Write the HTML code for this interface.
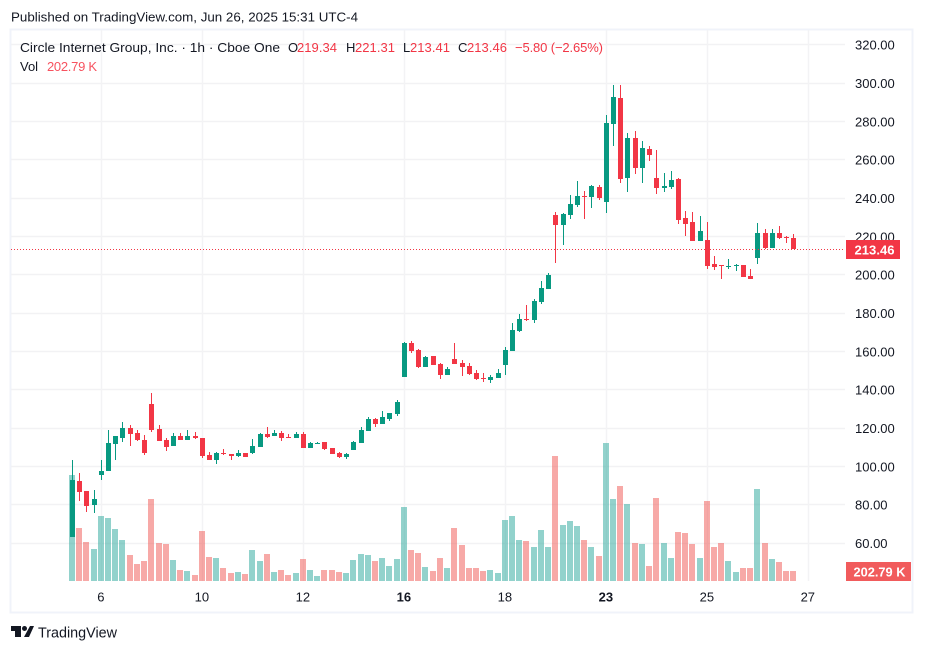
<!DOCTYPE html>
<html lang="en">
<head>
<meta charset="utf-8">
<title>Circle Internet Group, Inc. chart</title>
<style>
html,body{margin:0;padding:0;background:#fff;}
body{width:925px;height:652px;overflow:hidden;}
svg{display:block;font-family:"Liberation Sans",sans-serif;}
text{fill:#131722;font-size:13px;}
</style>
</head>
<body>
<svg id="chart" width="925" height="652" viewBox="0 0 925 652" xmlns="http://www.w3.org/2000/svg">
  <text x="11" y="21.5" textLength="347" lengthAdjust="spacingAndGlyphs">Published on TradingView.com, Jun 26, 2025 15:31 UTC-4</text>
  <rect x="10.5" y="29.5" width="902" height="583" fill="none" stroke="#f0f3fa" stroke-width="2"/>
  <g id="grid"></g>
  <g id="volumes"></g>
  <g id="candles"></g>
  <g id="price-axis"></g>
  <g id="time-axis"></g>
  <line id="last-line" x1="11" x2="845" stroke="#f23645" stroke-width="1" stroke-dasharray="1 2" shape-rendering="crispEdges"/>
  <g>
    <rect x="846" y="240" width="54" height="19" fill="#f23645"/>
    <text id="last-text" x="854.5" y="254.3" style="fill:#fff;font-weight:bold" textLength="40" lengthAdjust="spacingAndGlyphs">213.46</text>
  </g>
  <g>
    <rect x="846" y="562" width="65" height="19" fill="#f15b5c"/>
    <text x="853.5" y="576.3" style="fill:#fff;font-weight:bold" textLength="52" lengthAdjust="spacingAndGlyphs">202.79 K</text>
  </g>
  <g>
    <text x="20" y="52" textLength="260" lengthAdjust="spacingAndGlyphs">Circle Internet Group, Inc. · 1h · Cboe One</text>
    <text x="288" y="52">O</text>
    <text x="297" y="52" style="fill:#f23645" textLength="40">219.34</text>
    <text x="346" y="52">H</text>
    <text x="355" y="52" style="fill:#f23645" textLength="40">221.31</text>
    <text x="403" y="52">L</text>
    <text x="410" y="52" style="fill:#f23645" textLength="40">213.41</text>
    <text x="458" y="52">C</text>
    <text x="467" y="52" style="fill:#f23645" textLength="40">213.46</text>
    <text x="515" y="52" style="fill:#f23645" textLength="88">−5.80 (−2.65%)</text>
    <text x="20" y="71">Vol</text>
    <text x="47" y="71" style="fill:#f7525f" textLength="50">202.79 K</text>
  </g>
  <g>
    <path d="M11 626h10v11h-6v-6h-4z M30 626h4l-5 11h-5z" fill="#131722"/>
    <circle cx="24.5" cy="628.5" r="2.5" fill="#131722"/>
    <text x="38" y="637.5" style="font-size:15px" textLength="79" lengthAdjust="spacingAndGlyphs">TradingView</text>
  </g>
</svg>
<script>
const opens = [63.5,92.5,87.3,80,95.6,97.9,111.8,115.1,120.2,117.5,113.9,132.7,119.6,113.9,110.8,116,113.9,116,114.9,106.1,103.5,107.1,106.6,105.5,107.1,107.1,110.3,117,116,117.6,115.5,115,117,109.7,111.8,112.9,109.7,107.1,105,108.7,112.3,118.6,124.9,122.3,124.9,127.5,146.8,164.5,160.9,152,157.7,153.6,147.8,156.1,154,152.5,148.8,146.2,145.2,146.2,153,160.3,170.8,177,176.5,185.9,192.7,231.3,226,231.3,236.5,241.2,240.6,245.9,238,278.7,292.3,250.6,271.4,255.8,265.7,250.6,245.3,245.9,250,229.7,227.6,217.7,218.3,205.8,205.2,204.2,204.7,205.2,199.5,208.9,221.9,214.1,221.9,219.8,219.34];
const highs = [103.5,96.7,87.3,87.8,103.5,119.1,116,123.3,121.7,119.1,116.5,138.4,121.7,114.9,117.5,117.5,119.1,118,114.9,107.6,107.6,109.2,106.6,108.7,107.1,114.4,117.5,120.7,119.1,118.6,117,118.1,118.1,112.9,112.9,112.9,109.9,107.6,107.1,113.4,120.7,125.9,125.4,129,128,134.8,165,165.6,161.4,157.7,157.7,154.1,152,164.5,155.6,154,150.4,148.8,147.8,150.9,162.4,174.9,179.6,184.3,187.5,196.8,201,232.8,232.3,241.7,249,243.8,246.9,246.9,283.4,299.1,299.1,274,275.1,269.9,267.3,265.2,253.2,254.2,250.6,233.3,232.8,230.7,227.7,209.9,205.2,208.4,205.8,205.2,203.1,227.1,224,224,225.6,220.4,221.31];
const lows = [63.5,82.2,76.5,76,93,97.9,103.5,112.9,110.8,113.4,106.1,118.1,113.4,108.2,110.8,113.9,113.9,114.4,104.5,103.5,101.4,106.1,103.5,105,105,106.6,110.3,115,116,113.4,115,115,109.7,109.7,111.8,108.7,106.6,104.5,104,108.7,112.3,118.6,120.7,122.3,123.8,126.4,146.8,159.3,151.5,152,153,145.7,147.8,153.5,147.3,147.8,145.2,144.1,143.6,146.2,147.8,160.3,170.2,176,174.9,184.8,192.7,206.2,215.6,229.2,235.4,229.2,234.9,239.1,232.3,267.3,248,243.3,252.6,248,259.4,242.2,243.3,244.8,226.6,220.3,217.7,217.7,203.1,202.6,197.9,203.1,202.1,199,197.9,205.8,213.6,214.1,218.8,216.7,213.41];
const closes = [93,86.9,79.6,83.1,97.7,112.3,116,120.2,117,113.9,107.1,119.1,113.4,110.2,116,113.9,116,114.9,105.5,103.5,107.1,106.6,105.5,107.1,105,110.8,117,115.5,117.6,115,115,117,109.7,112.3,112.3,109.2,106.6,105,106.6,112.9,119.1,124.9,122.3,125.9,128,133.7,164.5,160.3,152,157.2,153,147.8,150.9,153.5,152,148.3,145.7,145.9,146.8,148.8,160.8,171.3,177,176.5,186.4,193.2,200,226,231.8,237,241.2,240.6,246.4,240.1,279.3,292.8,250,271.4,255.8,266.2,262.5,245.3,246.4,249.5,228.6,226.6,217.7,222.9,204.7,204.2,204.7,204.7,205.2,199,197.9,221.9,214.1,221.9,219.3,219.3,213.46];
const volumes = [2150,1075,791,649,1318,1278,1055,831,527,345,406,1663,771,750,426,223,203,122,1014,487,466,264,162,183,142,629,406,548,183,223,122,162,446,223,101,223,223,183,162,426,548,527,406,466,304,446,1501,629,568,284,203,466,264,1075,730,264,264,203,223,162,1237,1318,831,811,690,1034,690,2535,1136,1217,1115,831,690,507,2799,1663,1927,1562,771,750,304,1683,771,466,994,973,750,466,1622,690,771,406,183,264,264,1866,771,446,385,203,202.79];
const priceTicks = [320,300,280,260,240,220,200,180,160,140,120,100,80,60];
const dayLabels = ["6","10","12","16","18","23","25","27"];
const dayBars = [4,18,32,46,60,74,88,102];
const boldDays = ["16","23"];

const SVG_NS = "http://www.w3.org/2000/svg";
const UP = "#089981";
const DOWN = "#f23645";

function xScale(bar){ return 72 + 7.214 * bar; }
function yPrice(p){ return 543.3 - (p - 60) * 1.9167; }
function volHeight(v){ return v / 20.28; }
function mk(tag, attrs, parent){
  const el = document.createElementNS(SVG_NS, tag);
  for (const k in attrs) el.setAttribute(k, attrs[k]);
  parent.appendChild(el);
  return el;
}

const gridG = document.getElementById("grid");
const volG = document.getElementById("volumes");
const candleG = document.getElementById("candles");
const priceG = document.getElementById("price-axis");
const timeG = document.getElementById("time-axis");

priceTicks.forEach(function(t){
  const y = Math.round(yPrice(t) - 0.5) + 0.5;
  const gl = mk("line", {x1:11, x2:845, y1:y, y2:y, stroke:"#f2f2f4", "stroke-width":1.4}, gridG);
  
  
  const lb = mk("text", {x:855, y:yPrice(t) + 4.7}, priceG);
  lb.textContent = t.toFixed(2);
  
  
});

dayBars.forEach(function(b, i){
  const x = Math.round(xScale(b)) + 0.5;
  const gl = mk("line", {x1:x, x2:x, y1:30, y2:581, stroke:"#f3f3f5", "stroke-width":1.4}, gridG);
  
  
  const lb = mk("text", {x:xScale(b), y:601.5, "text-anchor":"middle"}, timeG);
  lb.textContent = dayLabels[i];
  if (boldDays.indexOf(dayLabels[i]) >= 0) lb.setAttribute("font-weight", "bold");
  
  
});

volumes.forEach(function(v, i){
  const up = closes[i] >= opens[i];
  const cx = Math.round(xScale(i));
  const h = Math.max(1, Math.round(volHeight(v)));
  const r = mk("rect", {x:cx - 3, y:581 - h, width:6, height:h, fill: up ? "#26a69a" : "#ef5350", "fill-opacity":0.5, "shape-rendering":"crispEdges"}, volG);
  
  
});

opens.forEach(function(o, i){
  const c = closes[i];
  const up = c >= o;
  const col = up ? UP : DOWN;
  const cx = Math.round(xScale(i));
  const wickTop = Math.round(yPrice(highs[i]));
  const wickBot = Math.round(yPrice(lows[i]));
  const w = mk("rect", {x:cx, y:wickTop, width:1, height:Math.max(1, wickBot - wickTop), fill:col, "shape-rendering":"crispEdges"}, candleG);
  
  
  const bodyTop = Math.round(yPrice(Math.max(o, c)));
  const bodyBot = Math.round(yPrice(Math.min(o, c)));
  const b = mk("rect", {x:cx - 2, y:bodyTop, width:5, height:Math.max(1, bodyBot - bodyTop), fill:col, "shape-rendering":"crispEdges"}, candleG);
  
  
});

const lastY = Math.round(yPrice(closes[closes.length - 1])) + 0.5;
const lastLine = document.getElementById("last-line");
lastLine.setAttribute("y1", lastY);
lastLine.setAttribute("y2", lastY);
document.getElementById("last-text").textContent = closes[closes.length - 1].toFixed(2);
</script>
</body>
</html>
